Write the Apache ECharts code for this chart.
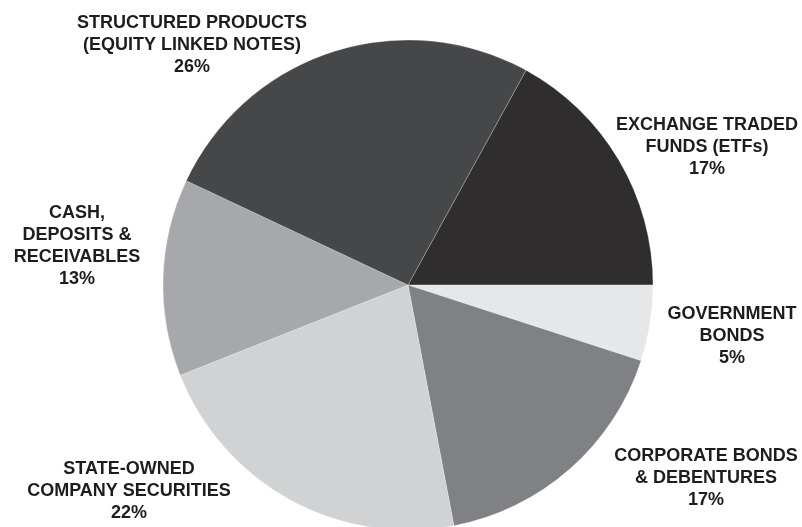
<!DOCTYPE html>
<html>
<head>
<meta charset="utf-8">
<script src="https://cdn.jsdelivr.net/npm/echarts@6/dist/echarts.min.js"></script>
<style>
  html, body { margin: 0; padding: 0; background: #fff; }
  #chart { width: 802px; height: 527px; }
</style>
</head>
<body>
<div id="chart"></div>
<script>
// slice names (clockwise from the ETF slice) and their shares
const categories = [
  "EXCHANGE TRADED\nFUNDS (ETFs)",
  "GOVERNMENT\nBONDS",
  "CORPORATE BONDS\n& DEBENTURES",
  "STATE-OWNED\nCOMPANY SECURITIES",
  "CASH,\nDEPOSITS &\nRECEIVABLES",
  "STRUCTURED PRODUCTS\n(EQUITY LINKED NOTES)"
];
const shares = [17, 5, 17, 22, 13, 26];

// grey shades per slice
const colors = ["#2f2d2e", "#e6e7e8", "#808184", "#d1d2d4", "#a7a8ab", "#464749"];

// where each label block sits (centre of text)
const labelPos = [
  [707, 147],
  [732, 336],
  [706, 478],
  [129, 491],
  [77, 246],
  [192, 45]
];

const chart = echarts.init(document.getElementById("chart"));

chart.setOption({
  animation: false,
  series: [
    {
      type: "pie",
      center: [408, 285],
      radius: 245,
      startAngle: 61.2,
      clockwise: true,
      percentPrecision: 0,
      itemStyle: {
        borderColor: "rgba(255,255,255,0.45)",
        borderWidth: 0.5
      },
      label: {
        show: true,
        position: "outside",
        formatter: "{b}\n{d}%",
        color: "#1f1c1d",
        fontFamily: "Liberation Sans, Arial, sans-serif",
        fontWeight: "bold",
        fontSize: 18,
        lineHeight: 22,
        align: "center",
        overflow: "none"
      },
      labelLine: { show: false },
      labelLayout: function (params) {
        const p = labelPos[params.dataIndex];
        return { x: p[0], y: p[1], align: "center", verticalAlign: "middle" };
      },
      emphasis: { disabled: true },
      data: categories.map((name, i) => ({
        name: name,
        value: shares[i],
        itemStyle: { color: colors[i] }
      }))
    }
  ]
});
</script>
</body>
</html>
